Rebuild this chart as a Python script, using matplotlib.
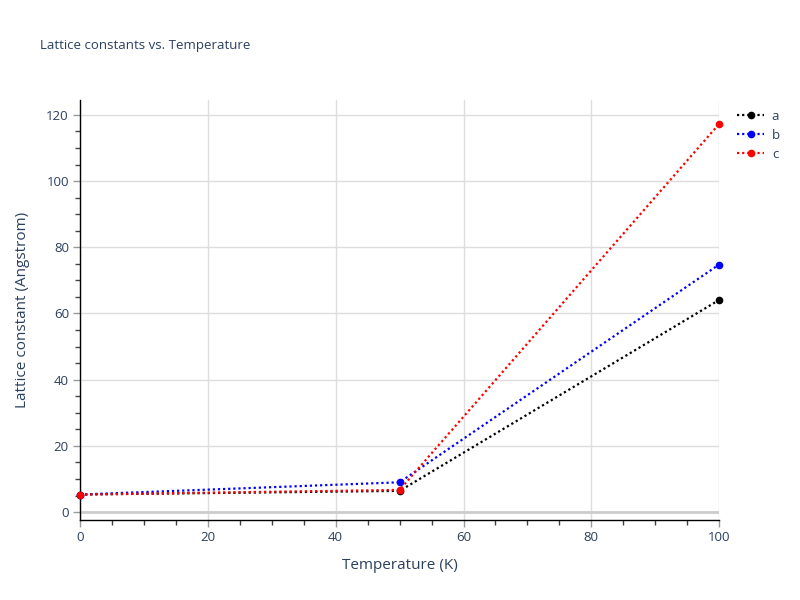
import matplotlib
matplotlib.use('Agg')
import matplotlib.pyplot as plt
from matplotlib.ticker import MultipleLocator

plt.rcParams['font.family'] = ['Open Sans', 'DejaVu Sans']

temps = [0, 50, 100]
lat_a = [5.3, 6.4, 64.1]
lat_b = [5.3, 9.0, 74.8]
lat_c = [5.3, 6.7, 117.3]
names = ['a', 'b', 'c']
colors = ['black', 'blue', 'red']

txt = '#2a3f5f'

fig = plt.figure(figsize=(8, 6), dpi=100)
ax = fig.add_axes([0.1, 0.1333, 0.799, 0.7])

for vals, name, col in zip([lat_a, lat_b, lat_c], names, colors):
    ax.plot(temps, vals, linestyle=(0, (1, 1.3)), color=col, linewidth=1.6,
            marker='o', markersize=4.5, label=name, clip_on=False, zorder=3)

ax.set_xlim(0, 100)
ax.set_ylim(-2.4, 124.5)
ax.xaxis.set_major_locator(MultipleLocator(20))
ax.xaxis.set_minor_locator(MultipleLocator(5))
ax.yaxis.set_major_locator(MultipleLocator(20))
ax.yaxis.set_minor_locator(MultipleLocator(5))
ax.grid(True, which='major', color='#dddddd', linewidth=1)
ax.axhline(0, color='#cccccc', linewidth=2, zorder=1)
ax.set_axisbelow(True)

for s in ['top', 'right']:
    ax.spines[s].set_visible(False)
for s in ['left', 'bottom']:
    ax.spines[s].set_color('black')
    ax.spines[s].set_linewidth(1)

ax.tick_params(which='major', length=5, color='#999999', width=1, pad=3,
               labelsize=9.5, labelcolor=txt)
ax.tick_params(which='minor', length=3.5, color='#444444', width=1, direction='out')

ax.set_xlabel('Temperature (K)', fontsize=11, color=txt, labelpad=10)
ax.set_ylabel('Lattice constant (Angstrom)', fontsize=11, color=txt, labelpad=12)
fig.text(0.05, 0.925, 'Lattice constants vs. Temperature', fontsize=9.5, color=txt,
         va='center')

leg = ax.legend(loc='upper left', bbox_to_anchor=(1.01, 1.005), frameon=False,
                fontsize=9.5, handlelength=2.0, handletextpad=0.6, labelspacing=0.45)
for t in leg.get_texts():
    t.set_color(txt)

fig.savefig('out.png', dpi=100)
